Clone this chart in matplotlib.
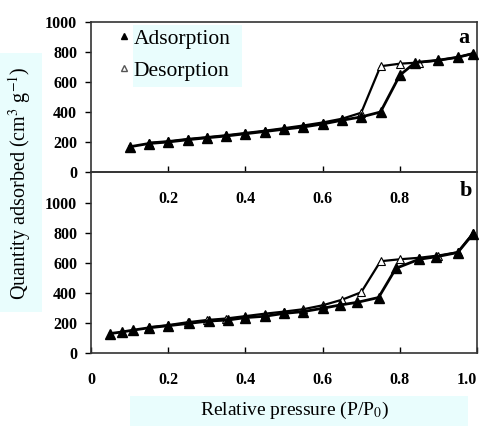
import matplotlib
matplotlib.use("Agg")
import matplotlib.pyplot as plt
from matplotlib.patches import Rectangle
from matplotlib.lines import Line2D

plt.rcParams['font.family'] = ['Liberation Serif', 'DejaVu Serif']
plt.rcParams['mathtext.fontset'] = 'stix'

# panel a
a_ads_x = [0.10, 0.15, 0.20, 0.25, 0.30, 0.35, 0.40, 0.45, 0.50, 0.55, 0.60,
           0.65, 0.70, 0.75, 0.80, 0.84, 0.90, 0.95, 0.99]
a_ads_y = [168, 190, 200, 215, 228, 240, 255, 270, 285, 300, 320,
           345, 367, 400, 645, 730, 745, 765, 790]
a_des_x = [0.99, 0.95, 0.90, 0.85, 0.80, 0.75, 0.70, 0.65, 0.60, 0.55, 0.50,
           0.45, 0.40, 0.35, 0.30, 0.25, 0.20, 0.15]
a_des_y = [790, 765, 745, 730, 722, 705, 395, 355, 330, 310, 292,
           275, 260, 245, 232, 220, 205, 195]

# panel b
b_ads_x = [0.05, 0.08, 0.11, 0.15, 0.20, 0.255, 0.305, 0.355, 0.40, 0.45, 0.50,
           0.55, 0.60, 0.645, 0.69, 0.745, 0.79, 0.85, 0.895, 0.95, 0.99]
b_ads_y = [130, 140, 153, 168, 182, 198, 213, 220, 236, 245, 264,
           276, 298, 320, 338, 370, 565, 625, 642, 670, 795]
b_des_x = [0.99, 0.95, 0.90, 0.85, 0.80, 0.75, 0.70, 0.65, 0.60, 0.55, 0.50,
           0.45, 0.40, 0.35, 0.30, 0.25, 0.20, 0.15]
b_des_y = [800, 672, 650, 635, 625, 612, 405, 355, 318, 292, 276,
           262, 246, 230, 220, 205, 186, 172]

cyan = '#e9fdfd'
tick_font = dict(fontsize=11.5, fontweight='bold')

fig = plt.figure(figsize=(4.84, 4.26), dpi=100)

# background highlights behind the axis titles
fig.patches.append(Rectangle((0, 1 - 312/426), 42/484, (312 - 53)/426,
                             transform=fig.transFigure, facecolor=cyan,
                             edgecolor='none', zorder=0))
fig.patches.append(Rectangle((130/484, 0), (468 - 130)/484, 30/426,
                             transform=fig.transFigure, facecolor=cyan,
                             edgecolor='none', zorder=0))

left, right = 91/484, 477/484
ax1 = fig.add_axes([left, 1 - 172/426, right - left, 150/426])
ax2 = fig.add_axes([left, 1 - 353/426, right - left, 181/426])

for ax in (ax1, ax2):
    ax.set_xlim(0, 1.0)
    ax.tick_params(axis='x', direction='in', length=4, width=1, pad=14)
    ax.tick_params(axis='y', direction='out', length=4, width=1, pad=6)
    for s in ax.spines.values():
        s.set_color('#333333')
        s.set_linewidth(1.2)

ax1.set_ylim(0, 1000)
ax2.set_ylim(0, 1207)
ax1.set_yticks([0, 200, 400, 600, 800, 1000])
ax2.set_yticks([0, 200, 400, 600, 800, 1000])
ax1.set_yticklabels(['0', '200', '400', '600', '800', '1000'], **tick_font)
ax2.set_yticklabels(['0', '200', '400', '600', '800', '1000'], **tick_font)
ax1.set_xticks([0.2, 0.4, 0.6, 0.8])
ax1.set_xticklabels(['0.2', '0.4', '0.6', '0.8'], **tick_font)
ax2.set_xticks([0, 0.2, 0.4, 0.6, 0.8, 1.0])
ax2.set_xticklabels(['0', '0.2', '0.4', '0.6', '0.8', '1.0'], **tick_font)
ax2.get_xticklabels()[-1].set_horizontalalignment('right')
ax1.set_zorder(3)
ax1.patch.set_alpha(0)

for ax, ax_x, ax_y, dx, dy in ((ax1, a_ads_x, a_ads_y, a_des_x, a_des_y),
                               (ax2, b_ads_x, b_ads_y, b_des_x, b_des_y)):
    ax.plot(dx, dy, color='black', lw=1.6, marker='^', ms=6,
            mfc='white', mec='black', mew=0.8, zorder=2, clip_on=False)
    ax.plot(ax_x, ax_y, color='black', lw=2.0, marker='^', ms=7.5,
            mfc='black', mec='black', zorder=3, clip_on=False)

ax1.text(0.965, 0.86, 'a', transform=ax1.transAxes, fontsize=16,
         fontweight='bold', ha='center')
ax2.text(0.97, 0.865, 'b', transform=ax2.transAxes, fontsize=16,
         fontweight='bold', ha='center')

# legend with highlight behind the text
ax1.add_patch(Rectangle((0.11, 0.57), 0.28, 0.41, transform=ax1.transAxes,
                        facecolor=cyan, edgecolor='none', zorder=0))
handles = [Line2D([], [], ls='none', marker='^', ms=5, mfc='black', mec='black'),
           Line2D([], [], ls='none', marker='^', ms=5, mfc='white', mec='#555555')]
ax1.legend(handles, ['Adsorption', 'Desorption'], loc='upper left',
           bbox_to_anchor=(0.035, 1.04), frameon=False, fontsize=15.5,
           handlelength=0.6, handletextpad=0.15, labelspacing=0.55,
           borderaxespad=0.2)

fig.text(20/484, 1 - 183/426, 'Quantity adsorbed (cm$^{3}$ g$^{-1}$)',
         rotation=90, ha='center', va='center', fontsize=14.5)
fig.text(295/484, 1 - 410/426, 'Relative pressure (P/P$_{0}$)',
         ha='center', va='center', fontsize=14)

fig.savefig('out.png', dpi=100)
